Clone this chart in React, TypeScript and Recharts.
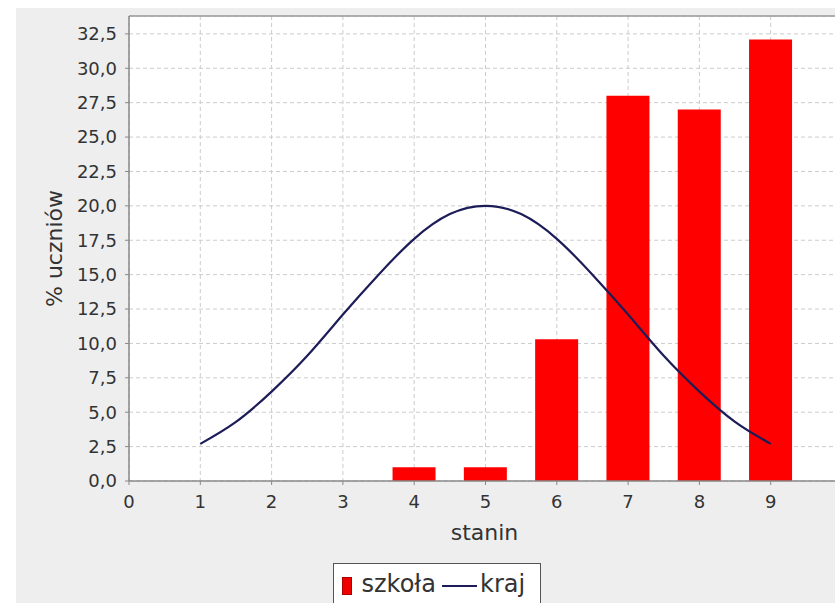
import { ComposedChart, Bar, Line, XAxis, YAxis, CartesianGrid, Legend, ReferenceLine } from "recharts";

// stanine categories and the school's share per stanine
const stanines = [1, 2, 3, 4, 5, 6, 7, 8, 9];
const szkola = [0, 0, 0, 1.0, 1.0, 10.3, 28.0, 27.0, 32.1];

// national curve, every half stanine
const krajX = [1, 1.5, 2, 2.5, 3, 3.5, 4, 4.5, 5, 5.5, 6, 6.5, 7, 7.5, 8, 8.5, 9];
const kraj = [2.7, 4.3, 6.5, 9.1, 12.1, 15.0, 17.6, 19.4, 20.0, 19.4, 17.6, 15.0, 12.1, 9.1, 6.5, 4.3, 2.7];

const xTicks = [0, 1, 2, 3, 4, 5, 6, 7, 8, 9];
const yTicks = [0, 2.5, 5, 7.5, 10, 12.5, 15, 17.5, 20, 22.5, 25, 27.5, 30, 32.5];
const X_MAX = 10;
const Y_MAX = 33.8;

const FONT = '"DejaVu Sans", "Liberation Sans", sans-serif';
const BAR_RED = "#ff0000";
const LINE_NAVY = "#1c1c58";
const AXIS_GREY = "#888888";
const TEXT = "#333333";

const barData = stanines.map((x, i) => ({ x, szkola: szkola[i] }));
const lineData = krajX.map((x, i) => ({ x, kraj: kraj[i] }));

const fmt = (v: number) => v.toFixed(1).replace(".", ",");

function XTitle({ viewBox }: any) {
  const { x, y, width } = viewBox;
  return (
    <text x={x + width / 2 - 1} y={y + 59} textAnchor="middle" fontSize={22} fontFamily={FONT} fill={TEXT}>
      stanin
    </text>
  );
}

function YTitle({ viewBox }: any) {
  const { y, height } = viewBox;
  const cx = 46;
  const cy = y + height / 2;
  return (
    <text
      x={cx}
      y={cy}
      textAnchor="middle"
      transform={`rotate(-90, ${cx}, ${cy})`}
      fontSize={22}
      fontFamily={FONT}
      fill={TEXT}
    >
      % uczniów
    </text>
  );
}

function LegendBox() {
  return (
    <div
      style={{
        position: "relative",
        width: 208,
        height: 48,
        boxSizing: "border-box",
        background: "#fff",
        border: "1.5px solid #555",
        fontFamily: FONT,
        fontSize: 24,
        color: TEXT,
      }}
    >
      <div
        style={{
          position: "absolute",
          left: 8,
          top: 12.5,
          width: 10,
          height: 18,
          boxSizing: "border-box",
          background: "#ee0000",
          border: "1px solid #b00000",
        }}
      />
      <span style={{ position: "absolute", left: 27.5, top: 6, lineHeight: "28px", whiteSpace: "nowrap" }}>szkoła</span>
      <div style={{ position: "absolute", left: 107.5, top: 20.5, width: 35, height: 2, background: LINE_NAVY }} />
      <span style={{ position: "absolute", left: 146, top: 6, lineHeight: "28px", whiteSpace: "nowrap" }}>kraj</span>
    </div>
  );
}

export default function App() {
  return (
    <div style={{ position: "absolute", left: 0, top: 0, width: 835, height: 603, overflow: "hidden", background: "#fff" }}>
      <div style={{ position: "absolute", left: 16, top: 8, width: 859, height: 595, background: "#eeeeee" }}>
        <ComposedChart width={859} height={595} data={barData} margin={{ top: 8, right: 33, bottom: 0, left: 0 }}>
          <CartesianGrid stroke="#cccccc" strokeDasharray="4 3" fill="#ffffff" />
          <XAxis
            dataKey="x"
            type="number"
            domain={[0, X_MAX]}
            ticks={xTicks}
            interval={0}
            height={74}
            tickSize={4}
            tickMargin={10}
            axisLine={{ stroke: AXIS_GREY, strokeWidth: 1.5 }}
            tickLine={{ stroke: AXIS_GREY }}
            tick={{ fontSize: 18, fill: TEXT, fontFamily: FONT }}
            label={<XTitle />}
          />
          <XAxis xAxisId="kraj" dataKey="x" type="number" domain={[0, X_MAX]} hide />
          <YAxis
            type="number"
            domain={[0, Y_MAX]}
            ticks={yTicks}
            interval={0}
            width={113}
            tickSize={4}
            tickMargin={8}
            tickFormatter={fmt}
            axisLine={{ stroke: AXIS_GREY, strokeWidth: 1.5 }}
            tickLine={{ stroke: AXIS_GREY }}
            tick={{ fontSize: 18, fill: TEXT, fontFamily: FONT }}
            label={<YTitle />}
          />
          <ReferenceLine y={Y_MAX} stroke="#999999" strokeWidth={1.5} />
          <Bar dataKey="szkola" name="szkoła" fill={BAR_RED} barSize={43} isAnimationActive={false} />
          <Line
            xAxisId="kraj"
            data={lineData}
            dataKey="kraj"
            name="kraj"
            type="natural"
            stroke={LINE_NAVY}
            strokeWidth={2.2}
            dot={false}
            activeDot={false}
            isAnimationActive={false}
          />
          <Legend
            verticalAlign="bottom"
            height={48}
            content={<LegendBox />}
            wrapperStyle={{ left: 317, top: 555, bottom: "auto", width: 208, height: 48 }}
          />
        </ComposedChart>
      </div>
    </div>
  );
}
